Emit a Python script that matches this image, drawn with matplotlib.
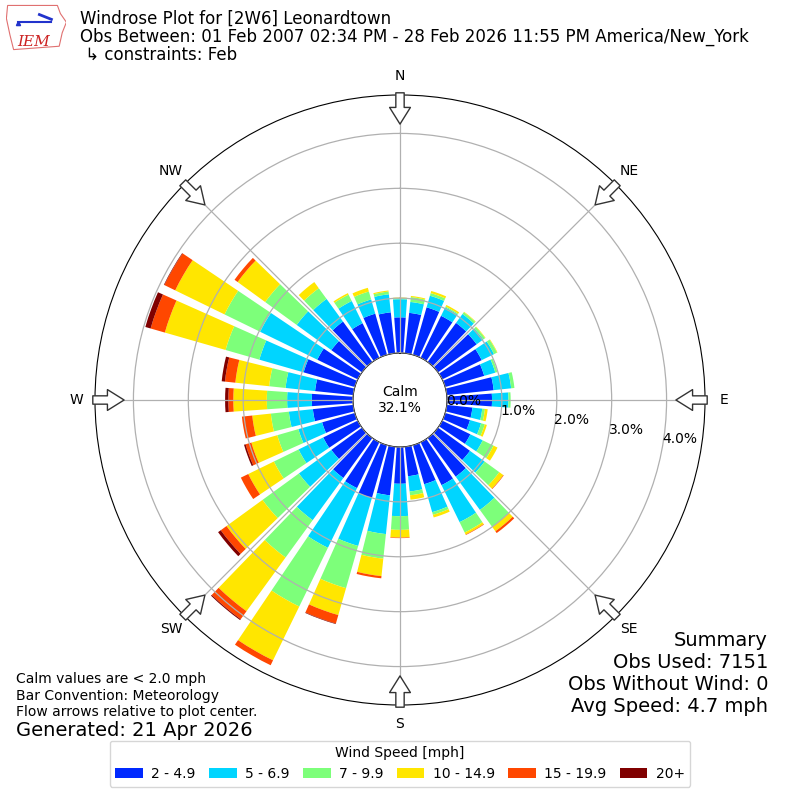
import numpy as np
import matplotlib
matplotlib.use('Agg')
import matplotlib.pyplot as plt
from matplotlib.patches import Patch, Polygon

# wind directions (deg, meteorological) and speed bins
directions = np.arange(0, 360, 10)
bin_labels = ['2 - 4.9', '5 - 6.9', '7 - 9.9', '10 - 14.9', '15 - 19.9', '20+']

# cumulative frequency [%] at the top of each speed bin, per direction
top_2 = [0.65, 0.74, 0.90, 0.85, 0.88, 0.87, 0.80, 0.74, 0.86, 0.82, 0.47, 0.47,
         0.57, 0.72, 0.87, 0.87, 0.74, 0.54, 0.67, 0.89, 1.00, 0.93, 0.90, 0.69,
         0.70, 0.62, 0.74, 0.75, 0.70, 0.97, 0.82, 0.69, 0.91, 0.70, 0.78, 0.75]
top_5 = [0.98, 0.94, 1.12, 1.02, 1.08, 1.02, 1.05, 0.95, 1.18, 1.12, 0.65, 0.68,
         0.82, 1.05, 1.62, 1.62, 1.27, 0.82, 1.26, 1.60, 1.91, 2.14, 1.85, 1.42,
         1.20, 1.07, 1.18, 1.20, 1.24, 1.81, 1.98, 1.47, 1.42, 1.15, 1.05, 1.08]
top_7 = [1.00, 1.03, 1.17, 1.04, 1.12, 1.06, 1.11, 0.99, 1.24, 1.16, 0.70, 0.75,
         1.04, 1.38, 2.00, 1.83, 1.32, 0.89, 1.51, 2.05, 2.71, 3.33, 2.69, 2.24,
         1.70, 1.47, 1.51, 1.57, 1.54, 2.45, 2.70, 2.18, 1.66, 1.28, 1.20, 1.13]
top_10 = [1.01, 1.05, 1.21, 1.07, 1.13, 1.07, 1.12, 0.99, 1.24, 1.16, 0.75, 0.79,
          1.12, 1.47, 2.10, 1.87, 1.37, 0.97, 1.65, 2.37, 3.22, 4.42, 3.90, 3.05,
          2.22, 1.96, 1.85, 2.18, 2.16, 3.60, 3.70, 2.80, 1.80, 1.31, 1.27, 1.15]
top_15 = [1.01, 1.05, 1.21, 1.07, 1.13, 1.07, 1.12, 0.99, 1.24, 1.16, 0.75, 0.79,
          1.12, 1.48, 2.14, 1.88, 1.37, 0.97, 1.66, 2.41, 3.38, 4.52, 4.08, 3.18,
          2.37, 2.07, 2.04, 2.27, 2.35, 3.87, 3.92, 2.87, 1.80, 1.31, 1.27, 1.15]
top_20 = [1.01, 1.05, 1.21, 1.07, 1.13, 1.07, 1.12, 0.99, 1.24, 1.16, 0.75, 0.79,
          1.12, 1.48, 2.14, 1.88, 1.37, 0.97, 1.66, 2.41, 3.39, 4.52, 4.10, 3.24,
          2.37, 2.10, 2.04, 2.33, 2.41, 3.97, 3.93, 2.87, 1.80, 1.31, 1.27, 1.15]

calm_pct = 32.1
obs_used = 7151
obs_nowind = 0
avg_speed = 4.7

rticks = [0, 1, 2, 3, 4]
compass = ['N', 'NE', 'E', 'SE', 'S', 'SW', 'W', 'NW']

colors = plt.cm.jet(np.linspace(0, 1, 7))[1:]

fig = plt.figure(figsize=(8, 8), dpi=100)
ax = fig.add_axes([0.11875, 0.11875, 0.7625, 0.7625], projection='polar')
ax.set_theta_zero_location('N')
ax.set_theta_direction(-1)

theta = np.deg2rad(directions)
bottom = np.zeros(len(directions))
for tops, color, label in zip([top_2, top_5, top_7, top_10, top_15, top_20],
                              colors, bin_labels):
    tops = np.array(tops)
    ax.bar(theta, tops - bottom, width=np.deg2rad(8), bottom=bottom,
           color=color, linewidth=0, label=label, zorder=2)
    bottom = tops

ax.set_ylim(0, 4.7)
ax.set_rorigin(-0.856)
ax.set_axisbelow(False)
ax.grid(True, color='#b0b0b0', lw=0.9, zorder=3)
ax.set_rgrids(rticks, labels=['%.1f%%' % r for r in rticks], angle=100, fontsize=10)
ax.set_thetagrids(range(0, 360, 45), labels=compass, fontsize=10)
ax.tick_params(axis='x', pad=3)
ax.spines['inner'].set_visible(True)
ax.spines['inner'].set_color('k')
ax.spines['polar'].set_color('k')

ax.text(0.5, 0.5, 'Calm\n%.1f%%' % calm_pct, transform=ax.transAxes,
        ha='center', va='center', fontsize=10, zorder=5)

# flow arrows at the compass points, pointing toward plot center
for d in range(0, 360, 45):
    ax.annotate('', xy=(np.deg2rad(d), 4.17), xytext=(np.deg2rad(d), 4.74),
                arrowprops=dict(arrowstyle='simple,head_length=0.6,head_width=0.75,tail_width=0.3',
                                fc='white', ec='#333333', lw=1, mutation_scale=20,
                                shrinkA=0, shrinkB=0),
                annotation_clip=False, zorder=6)

# titles
fig.text(0.1, 1 - 19 / 800, 'Windrose Plot for [2W6] Leonardtown', fontsize=12, va='center')
fig.text(0.1, 1 - 37 / 800,
         'Obs Between: 01 Feb 2007 02:34 PM - 28 Feb 2026 11:55 PM America/New_York',
         fontsize=12, va='center')
fig.text(0.1, 1 - 55 / 800, ' \u21b3 constraints: Feb', fontsize=12, va='center')

# crude IEM logo
lax = fig.add_axes([0.008, 0.935, 0.075, 0.06])
lax.set_xlim(0, 1)
lax.set_ylim(0, 1)
lax.axis('off')
lax.add_patch(Polygon([[0.02, 0.97], [0.85, 0.97], [0.9, 0.8], [1.0, 0.62], [0.93, 0.4],
                       [0.88, 0.12], [0.12, 0.05], [0.06, 0.35], [0.0, 0.7]],
                      closed=True, fill=False, ec='#e07070', lw=0.8))
lax.plot([0.2, 0.75], [0.62, 0.62], color='#2233cc', lw=1.5)
lax.plot([0.55, 0.75], [0.78, 0.68], color='#2233cc', lw=2)
lax.plot([0.2], [0.6], marker='^', color='#2233cc', ms=3)
lax.text(0.45, 0.2, 'IEM', color='#cc2222', fontsize=11, family='serif',
         style='italic', ha='center', va='center')

# footnotes
fig.text(0.02, 1 - 679 / 800, 'Calm values are < 2.0 mph', fontsize=10, va='center')
fig.text(0.02, 1 - 696 / 800, 'Bar Convention: Meteorology', fontsize=10, va='center')
fig.text(0.02, 1 - 712 / 800, 'Flow arrows relative to plot center.', fontsize=10, va='center')
fig.text(0.02, 1 - 730 / 800, 'Generated: 21 Apr 2026', fontsize=14, va='center')

summary = ['Summary', 'Obs Used: %d' % obs_used, 'Obs Without Wind: %d' % obs_nowind,
           'Avg Speed: %.1f mph' % avg_speed]
for i, line in enumerate(summary):
    fig.text(0.96, 1 - (640 + 22 * i) / 800, line, fontsize=14, ha='right', va='center')

handles = [Patch(facecolor=c, label=l) for c, l in zip(colors, bin_labels)]
fig.legend(handles=handles, loc='lower center', bbox_to_anchor=(0.5, 0.008), ncol=6,
           title='Wind Speed [mph]', fontsize=10, title_fontsize=10,
           columnspacing=0.95, handletextpad=0.6)

fig.savefig('out.png', dpi=100)
